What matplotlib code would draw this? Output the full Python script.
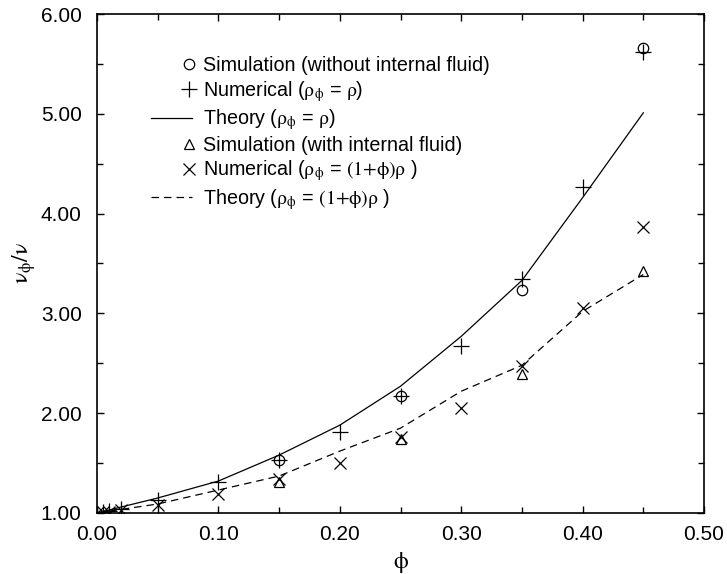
import matplotlib
matplotlib.use("Agg")
import matplotlib.pyplot as plt
from matplotlib.lines import Line2D
from matplotlib.ticker import MultipleLocator, FormatStrFormatter
from matplotlib.legend_handler import HandlerLine2DCompound

plt.rcParams['font.family'] = ['Liberation Sans', 'DejaVu Sans']
plt.rcParams['mathtext.fontset'] = 'stix'

# data
phi_num = [0.0, 0.005, 0.01, 0.02, 0.05, 0.10, 0.15, 0.20, 0.25, 0.30, 0.35, 0.40, 0.45]
num_rigid = [1.00, 1.01, 1.02, 1.04, 1.13, 1.31, 1.53, 1.81, 2.17, 2.67, 3.34, 4.27, 5.62]
num_fluid = [1.00, 1.01, 1.01, 1.03, 1.08, 1.19, 1.34, 1.50, 1.76, 2.05, 2.47, 3.05, 3.87]

phi_sim = [0.15, 0.25, 0.35, 0.45]
sim_rigid = [1.53, 2.17, 3.23, 5.66]
sim_fluid = [1.31, 1.74, 2.39, 3.42]

phi_th = [0.0, 0.05, 0.10, 0.15, 0.20, 0.25, 0.30, 0.35, 0.40, 0.45]
th_rigid = [1.00, 1.15, 1.32, 1.58, 1.88, 2.27, 2.77, 3.33, 4.16, 5.01]
th_fluid = [1.00, 1.09, 1.23, 1.37, 1.62, 1.85, 2.22, 2.48, 3.02, 3.39]


# legend markers sit at the right end of the handle, like the original
class RightMarker(HandlerLine2DCompound):
    def get_xdata(self, legend, xdescent, ydescent, width, height, fontsize):
        xdata = [-xdescent, -xdescent + width]
        return xdata, [-xdescent + width - 2]


fig = plt.figure(figsize=(7.27, 5.74), dpi=100)
ax = fig.add_axes([0.1334, 0.1063, 0.8350, 0.8693])

lw = 0.9
ax.plot(phi_sim, sim_rigid, ls='none', marker='o', ms=7.5, mfc='none', mec='k', mew=lw,
        label='Simulation (without internal fluid)')
ax.plot(phi_num, num_rigid, ls='none', marker='+', ms=11, mec='k', mew=lw,
        label=r'Numerical ($\mathrm{\rho_\phi}$ = $\mathrm{\rho}$)')
ax.plot(phi_th, th_rigid, ls='-', color='k', lw=lw,
        label=r'Theory ($\mathrm{\rho_\phi}$ = $\mathrm{\rho}$)')
ax.plot(phi_sim, sim_fluid, ls='none', marker='^', ms=7.5, mfc='none', mec='k', mew=lw,
        label='Simulation (with internal fluid)')
ax.plot(phi_num, num_fluid, ls='none', marker='x', ms=8.5, mec='k', mew=lw,
        label=r'Numerical ($\mathrm{\rho_\phi}$ = $\mathrm{(1{+}\phi)\rho}$ )')
ax.plot(phi_th, th_fluid, ls=(0, (6, 4)), color='k', lw=lw,
        label=r'Theory ($\mathrm{\rho_\phi}$ = $\mathrm{(1{+}\phi)\rho}$ )')

ax.set_xlim(0, 0.5)
ax.set_ylim(1, 6)
ax.xaxis.set_major_locator(MultipleLocator(0.1))
ax.xaxis.set_minor_locator(MultipleLocator(0.05))
ax.yaxis.set_major_locator(MultipleLocator(1.0))
ax.yaxis.set_minor_locator(MultipleLocator(0.5))
ax.xaxis.set_major_formatter(FormatStrFormatter('%.2f'))
ax.yaxis.set_major_formatter(FormatStrFormatter('%.2f'))
ax.tick_params(which='both', direction='in', top=True, right=True, width=1.0, labelsize=15)
ax.tick_params(which='major', length=5)
ax.tick_params(which='minor', length=4)
ax.tick_params(axis='x', which='major', pad=9)
ax.tick_params(axis='y', which='major', pad=11)
for s in ax.spines.values():
    s.set_linewidth(1.2)

ax.set_xlabel(r'$\mathrm{\phi}$', fontsize=17, labelpad=4)
ax.set_ylabel(r'$\mathrm{\nu_\phi/\nu}$', fontsize=17, labelpad=2)

ax.legend(loc='upper left', bbox_to_anchor=(0.072, 0.935), frameon=False, fontsize=14.2,
          handlelength=2.1, handletextpad=0.55, labelspacing=0.18, borderpad=0,
          numpoints=1, handler_map={Line2D: RightMarker()})

fig.savefig('out.png', dpi=100)
